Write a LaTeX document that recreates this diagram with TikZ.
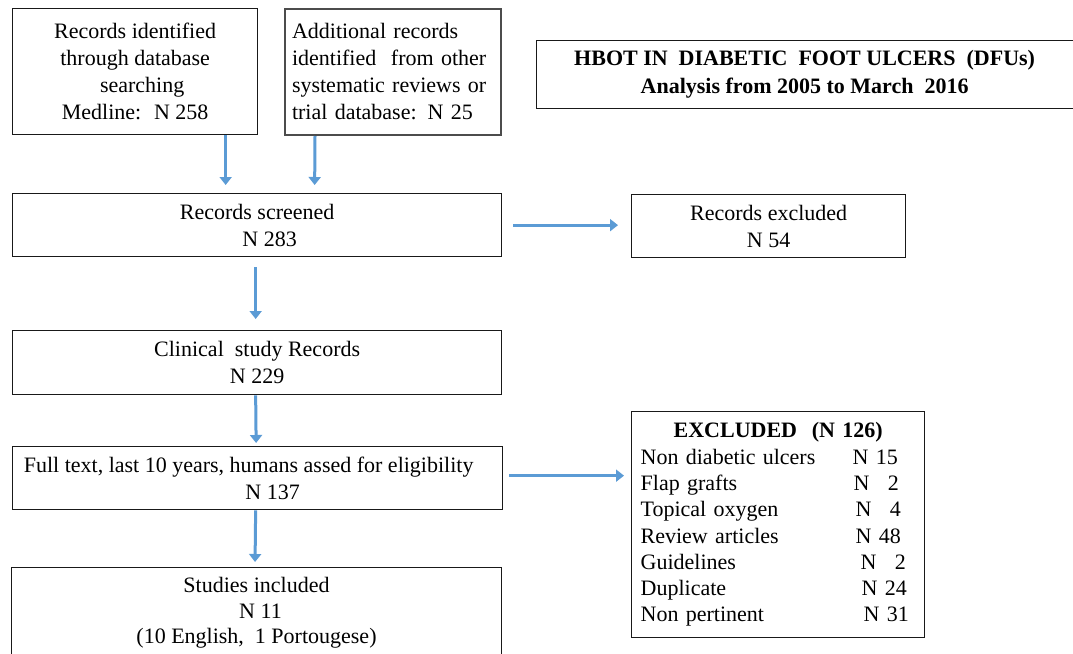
\documentclass[tikz,border=0pt]{standalone}
\usepackage{fontspec}
\setmainfont{Liberation Serif}
\usetikzlibrary{arrows.meta,calc}
\definecolor{arrowblue}{HTML}{5B9BD5}
\tikzset{
  boxnode/.style={draw=black!90, line width=1.3pt, font=\fontsize{22}{27}\selectfont,
    inner xsep=4pt, inner ysep=4pt, anchor=north west, align=center},
  flowarrow/.style={draw=arrowblue, line width=3pt, -{Triangle[length=8pt,width=12pt]}}
}
\begin{document}
\begin{tikzpicture}[x=1pt,y=1pt]
\useasboundingbox (0,0) rectangle (1073,-653);
\fill[white] (0,0) rectangle (1073,-653);
\clip (0,0) rectangle (1073,-653);

% top left
\node[boxnode, minimum width=245pt, minimum height=126pt] (A) at (12,-8)
  {Records identified\\through database\\\hspace*{14pt}searching\\Medline:~ N 258};
\node[boxnode, draw=black!70, line width=2pt, minimum width=216pt, minimum height=126pt,
  text width=202pt, inner xsep=7pt, align=left] (B) at (284,-8)
  {Additional records\\identified~ from other\\systematic reviews or\\trial database: N 25};

% title
\node[boxnode, font=\fontsize{22}{28}\selectfont\bfseries, minimum width=545pt, minimum height=68pt] (T) at (536,-40)
  {\hspace*{-9pt}HBOT IN~ DIABETIC~ FOOT ULCERS~ (DFUs)\\\hspace*{-9pt}Analysis from 2005 to March~ 2016};

% screened
\node[boxnode, minimum width=489pt, minimum height=63pt] (S) at (12,-193)
  {Records screened\\\hspace*{25pt}N 283};
\node[boxnode, minimum width=274pt, minimum height=63pt] (X) at (631,-194)
  {Records excluded\\N 54};

% clinical
\node[boxnode, minimum width=489pt, minimum height=64pt] (C) at (12,-330)
  {Clinical~ study Records\\N 229};

% full text
\node[boxnode, minimum width=490pt, minimum height=63pt] (F) at (12,-446)
  {\hspace*{-18pt}Full text, last 10 years, humans assed for eligibility\\\hspace*{30pt}N 137};

% studies included
\node[boxnode, anchor=north, font=\fontsize{22}{25.5}\selectfont, minimum width=490pt, inner ysep=10pt] (St) at (256.5,-567)
  {Studies included\\\hspace*{8pt}N 11\\(10 English,~ 1 Portougese)};

% excluded list
\node[boxnode, font=\fontsize{22}{26.3}\selectfont, minimum width=293pt, minimum height=226pt,
  text width=275pt, inner xsep=9pt, align=left] (E) at (631,-411)
  {\makebox[275pt][c]{\bfseries EXCLUDED~ (N 126)}\\
   \makebox[212pt][l]{Non diabetic ulcers}N 15\\
   \makebox[213pt][l]{Flap grafts}N~\phantom{1}2\\
   \makebox[215pt][l]{Topical oxygen}N~\phantom{1}4\\
   \makebox[215pt][l]{Review articles}N 48\\
   \makebox[220pt][l]{Guidelines}N~\phantom{1}2\\
   \makebox[221pt][l]{Duplicate}N 24\\
   \makebox[223pt][l]{Non pertinent}N 31};

% arrows
\draw[flowarrow] ([xshift=90.5pt]A.south) -- ([xshift=-31.5pt,yshift=8pt]S.north);
\draw[flowarrow] ([xshift=-78pt]B.south) -- ([xshift=57.5pt,yshift=8pt]S.north);
\draw[flowarrow, shorten <=11pt, shorten >=13pt] (S.east) -- (S.east -| X.west);
\draw[flowarrow, shorten <=10pt, shorten >=11pt] ([xshift=-1.5pt]S.south) -- ([xshift=-1.5pt]C.north);
\draw[flowarrow, shorten >=3pt] ([xshift=-1.5pt]C.south) -- ([xshift=-1.5pt]F.north);
\draw[flowarrow, shorten >=5pt] ([xshift=-2pt]F.south) -- ([xshift=-1.5pt]St.north);
\draw[flowarrow, shorten <=6pt, shorten >=7pt] ([yshift=2.5pt]F.east) -- ([yshift=2.5pt]F.east -| E.west);
\end{tikzpicture}
\end{document}
